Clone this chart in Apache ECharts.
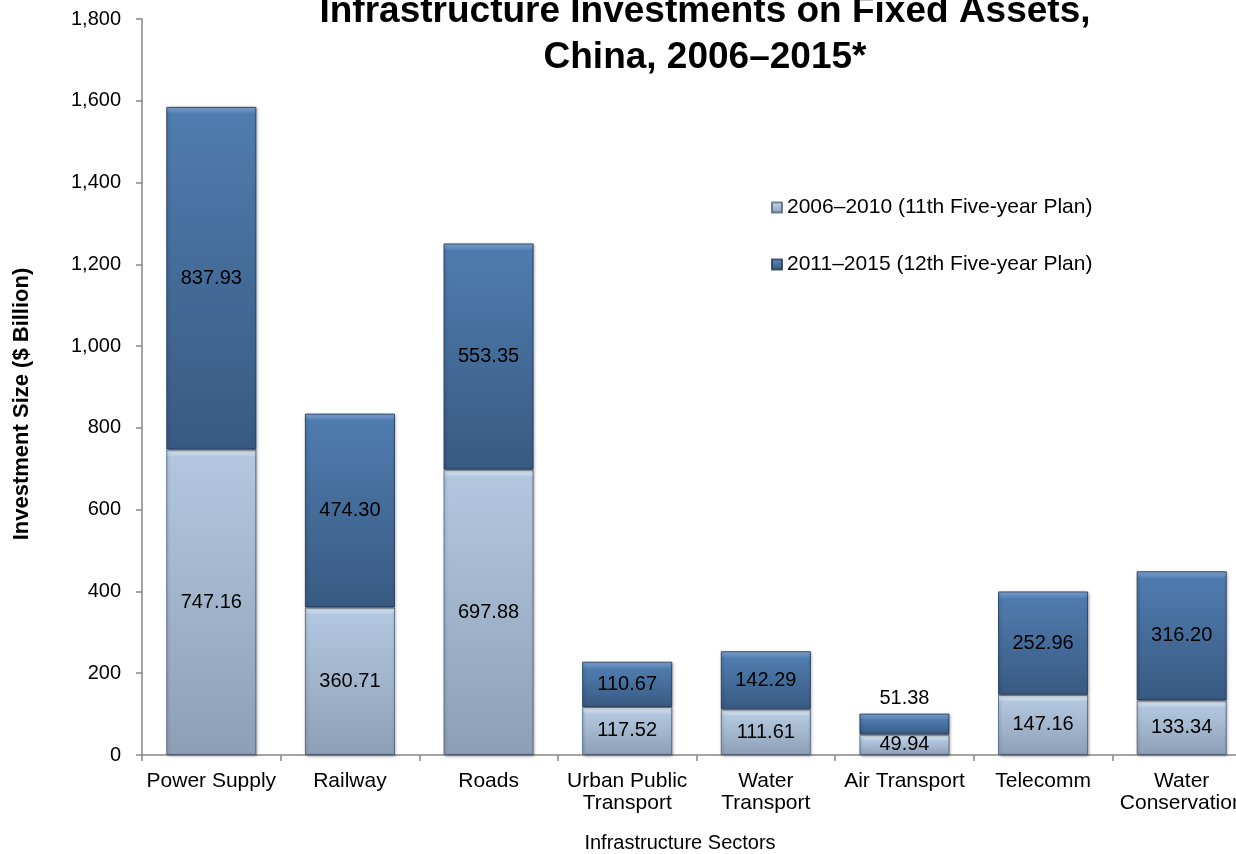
<!DOCTYPE html>
<html>
<head>
<meta charset="utf-8">
<script src="https://cdn.jsdelivr.net/npm/echarts@6/dist/echarts.min.js"></script>
<style>
  html, body { margin: 0; padding: 0; background: #fff; }
  #chart { width: 1236px; height: 854px; }
</style>
</head>
<body>
<div id="chart"></div>
<script>
// Sectors and investment per five-year plan ($ billion)
const sectors = ['Power Supply', 'Railway', 'Roads', 'Urban Public\nTransport', 'Water\nTransport', 'Air Transport', 'Telecomm', 'Water\nConservation'];
const plan11 = [747.16, 360.71, 697.88, 117.52, 111.61, 49.94, 147.16, 133.34];
const plan12 = [837.93, 474.30, 553.35, 110.67, 142.29, 51.38, 252.96, 316.20];
const seriesNames = ['2006\u20132010 (11th Five-year Plan)', '2011\u20132015 (12th Five-year Plan)'];
const yTicks = { min: 0, max: 1800, interval: 200 };

const FONT = 'Liberation Sans, Arial, sans-serif';
const gridTop = 19, gridBottom = 99;
const plotH = 854 - gridTop - gridBottom;
const pxPerUnit = plotH / (yTicks.max - yTicks.min);

// Vertical gradient with a bright bevel along the top edge of each segment
function bevel(value, hi, top, bottom) {
  const h = Math.max(1, value * pxPerUnit);
  const f = Math.min(0.3, 7 / h);
  return {
    type: 'linear', x: 0, y: 0, x2: 0, y2: 1,
    colorStops: [
      { offset: 0, color: hi },
      { offset: f, color: top },
      { offset: 1, color: bottom }
    ]
  };
}

const lightHi = '#eaf6fd', lightTop = '#b2c7df', lightBottom = '#8d9fb6';
const darkHi = '#86addb', darkTop = '#4f7cae', darkBottom = '#385a82';

const labelFmt = p => p.value.toFixed(2);

const chart = echarts.init(document.getElementById('chart'), null, { renderer: 'canvas' });
chart.setOption({
  backgroundColor: '#ffffff',
  animation: false,
  title: {
    text: 'Infrastructure Investments on Fixed Assets,\nChina, 2006\u20132015*',
    left: 700,
    top: -16,
    textAlign: 'center',
    textStyle: { fontFamily: FONT, fontSize: 37, fontWeight: 'bold', color: '#000', lineHeight: 46 }
  },
  legend: {
    orient: 'vertical',
    left: 771,
    top: 197,
    padding: 0,
    itemWidth: 10,
    itemHeight: 10,
    itemGap: 36,
    icon: 'rect',
    textStyle: { fontFamily: FONT, fontSize: 21, color: '#000' },
    data: seriesNames
  },
  // the plot runs a little past the right edge of the canvas
  grid: {
    left: 142, width: 1109, top: gridTop, bottom: gridBottom,
    containLabel: false, outerBoundsMode: 'none'
  },
  xAxis: {
    type: 'category',
    data: sectors,
    axisLine: { lineStyle: { color: '#868686', width: 1.5 } },
    axisTick: { show: true, length: 6, alignWithLabel: false, lineStyle: { color: '#868686', width: 1.5 } },
    axisLabel: { fontFamily: FONT, fontSize: 21, color: '#000', margin: 15, lineHeight: 22, interval: 0, hideOverlap: false }
  },
  yAxis: {
    type: 'value',
    min: yTicks.min, max: yTicks.max, interval: yTicks.interval,
    splitLine: { show: false },
    axisLine: { show: true, lineStyle: { color: '#868686', width: 1.5 } },
    axisTick: { show: true, length: 6, lineStyle: { color: '#868686', width: 1.5 } },
    axisLabel: {
      fontFamily: FONT, fontSize: 20, color: '#000', margin: 21,
      formatter: v => v.toLocaleString('en-US')
    }
  },
  graphic: [
    {
      type: 'text',
      x: 22, y: 404,
      rotation: Math.PI / 2,
      style: {
        text: 'Investment Size ($ Billion)',
        font: 'bold 22px ' + FONT,
        fill: '#000',
        align: 'center',
        verticalAlign: 'middle'
      }
    },
    {
      type: 'text',
      x: 680, y: 843,
      style: {
        text: 'Infrastructure Sectors',
        font: '20px ' + FONT,
        fill: '#000',
        align: 'center',
        verticalAlign: 'middle'
      }
    }
  ],
  series: [
    {
      name: seriesNames[0],
      type: 'bar',
      stack: 'total',
      barWidth: '65%',
      itemStyle: {
        color: { type: 'linear', x: 0, y: 0, x2: 0, y2: 1, colorStops: [{ offset: 0, color: lightHi }, { offset: 0.3, color: lightTop }, { offset: 1, color: lightBottom }] },
        borderColor: 'rgba(60,80,105,0.7)', borderWidth: 1,
        shadowBlur: 3, shadowColor: 'rgba(0,0,0,0.35)', shadowOffsetX: 1, shadowOffsetY: 1
      },
      label: { show: true, position: 'inside', fontFamily: FONT, fontSize: 20, color: '#000', formatter: labelFmt },
      data: plan11.map(v => ({ value: v, itemStyle: { color: bevel(v, lightHi, lightTop, lightBottom) } }))
    },
    {
      name: seriesNames[1],
      type: 'bar',
      stack: 'total',
      barWidth: '65%',
      itemStyle: {
        color: { type: 'linear', x: 0, y: 0, x2: 0, y2: 1, colorStops: [{ offset: 0, color: darkHi }, { offset: 0.3, color: darkTop }, { offset: 1, color: darkBottom }] },
        borderColor: 'rgba(30,50,80,0.8)', borderWidth: 1,
        shadowBlur: 3, shadowColor: 'rgba(0,0,0,0.35)', shadowOffsetX: 1, shadowOffsetY: 1
      },
      label: { show: true, position: 'inside', fontFamily: FONT, fontSize: 20, color: '#000', formatter: labelFmt },
      data: plan12.map((v, i) => {
        const item = { value: v, itemStyle: { color: bevel(v, darkHi, darkTop, darkBottom) } };
        // Segment too thin for its label: place the value above the bar
        if (v * pxPerUnit < 30) item.label = { position: 'top', distance: 5 };
        return item;
      })
    }
  ]
});
</script>
</body>
</html>
